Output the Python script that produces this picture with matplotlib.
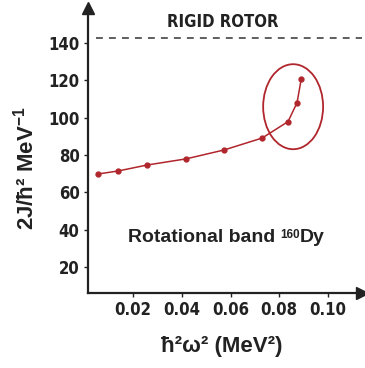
import matplotlib.pyplot as plt
from matplotlib.patches import Ellipse
from matplotlib.offsetbox import TextArea, HPacker, AnnotationBbox

omega_sq = [0.0056, 0.0138, 0.0257, 0.0417, 0.0574, 0.0730, 0.0836, 0.0873, 0.0890]
moment = [69.8, 71.4, 74.6, 77.9, 82.7, 89.1, 97.9, 108.0, 120.5]
rigid_rotor = 142.5
xticks = [0.02, 0.04, 0.06, 0.08, 0.10]
yticks = [20, 40, 60, 80, 100, 120, 140]

red = '#b0262c'
dark = '#222222'
plt.rcParams['font.family'] = ['DejaVu Sans']
plt.rcParams['mathtext.fontset'] = 'custom'
plt.rcParams['mathtext.rm'] = 'Liberation Sans'
plt.rcParams['mathtext.bf'] = 'Liberation Sans:bold'
wide = ['Liberation Sans', 'DejaVu Sans']

fig = plt.figure(figsize=(3.65, 3.68), dpi=100)
ax = fig.add_axes([0.241, 0.204, 0.751, 0.774])

ax.plot(omega_sq, moment, '-o', color=red, lw=1.1, ms=3.5)
ax.axhline(rigid_rotor, xmin=0.03, color='#333333', lw=1.1, ls=(0, (4.5, 4)))
ax.text(0.057, 151.5, 'RIGID ROTOR', ha='center', va='center',
        fontsize=12, fontweight='bold', color=dark, fontstretch='condensed')

big = dict(fontsize=14, fontweight='bold', family=wide, color=dark)
small = dict(fontsize=8.5, fontweight='bold', family=wide, color=dark)
band = HPacker(children=[TextArea('Rotational band ', textprops=big),
                         TextArea('160', textprops=small),
                         TextArea('Dy', textprops=big)],
               align='top', pad=0, sep=0)
ax.add_artist(AnnotationBbox(band, (0.0582, 35.7), frameon=False, box_alignment=(0.5, 0.5)))

ax.add_patch(Ellipse((0.0857, 105.9), 0.0246, 45.6, fill=False, ec=red, lw=1.3))

ax.set_xlim(0.0015, 0.114)
ax.set_ylim(6, 158.8)
ax.set_xticks(xticks)
ax.set_xticklabels(['%.2f' % v for v in xticks])
ax.set_yticks(yticks)
ax.tick_params(direction='out', length=3, width=1, labelsize=12, colors=dark, pad=3)
for lab in ax.get_xticklabels() + ax.get_yticklabels():
    lab.set_fontweight('bold')
    lab.set_fontstretch('condensed')

for s in ['top', 'right']:
    ax.spines[s].set_visible(False)
for s in ['left', 'bottom']:
    ax.spines[s].set_linewidth(1.6)
    ax.spines[s].set_color(dark)
ax.plot(1, 0, '>', color=dark, ms=8, transform=ax.transAxes, clip_on=False)
ax.plot(0, 1, '^', color=dark, ms=8, transform=ax.transAxes, clip_on=False)

ax.set_xlabel('ħ²ω² (MeV²)', fontsize=16, fontweight='bold', family=wide, color=dark)
ax.set_ylabel('2J/ħ² MeV$^{\\mathbf{-1}}$', fontsize=16, fontweight='bold',
              family=wide, color=dark)
ax.xaxis.set_label_coords(0.489, -0.15)
ax.yaxis.set_label_coords(-0.182, 0.439)

fig.savefig('out.png', dpi=100)
